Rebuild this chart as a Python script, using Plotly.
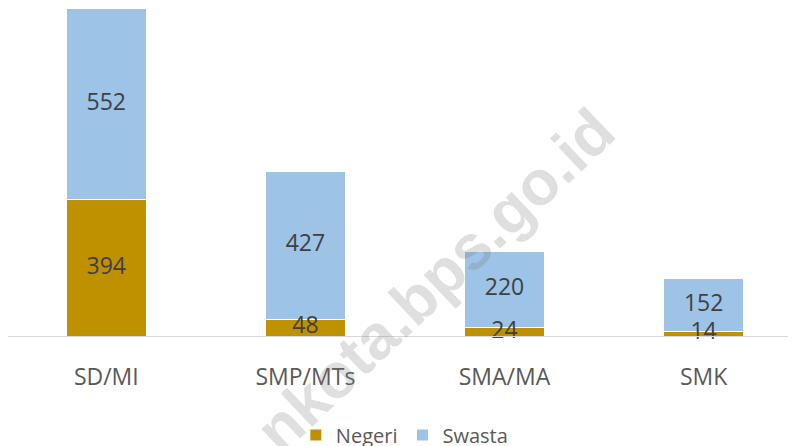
import plotly.graph_objects as go

categories = ["SD/MI", "SMP/MTs", "SMA/MA", "SMK"]
negeri = [394, 48, 24, 14]
swasta = [552, 427, 220, 152]
watermark = "nkota.bps.go.id"

NEG_COLOR = "#BF9000"
SWA_COLOR = "#9DC3E6"
FONT = "Open Sans"

fig = go.Figure()
fig.add_trace(go.Bar(x=categories, y=negeri, name="Negeri",
                     marker=dict(color=NEG_COLOR, line=dict(color="white", width=1))))
fig.add_trace(go.Bar(x=categories, y=swasta, name="Swasta",
                     marker=dict(color=SWA_COLOR, line=dict(color="white", width=1))))

# data labels centred on each segment
neg_mid = [n / 2 for n in negeri]
swa_mid = [n + s / 2 for n, s in zip(negeri, swasta)]
for ys, vals in ((neg_mid, negeri), (swa_mid, swasta)):
    fig.add_trace(go.Scatter(x=categories, y=ys, mode="text", text=[str(v) for v in vals],
                             textposition="middle center", showlegend=False, hoverinfo="skip",
                             textfont=dict(family=FONT, size=23, color="#404040"),
                             cliponaxis=False))

fig.add_annotation(text=watermark, xref="paper", yref="paper", x=0.5419, y=0.1707,
                   xanchor="center", yanchor="middle", textangle=-43.5, showarrow=False,
                   font=dict(family="Liberation Sans", size=63, color="rgba(120,120,120,0.24)",
                             weight="bold"))

fig.update_layout(
    width=788, height=438,
    barmode="stack", bargap=0.6,
    paper_bgcolor="white", plot_bgcolor="white",
    margin=dict(l=0, r=0, t=0, b=110, autoexpand=False),
    font=dict(family=FONT, color="#595959"),
    legend=dict(orientation="h", x=0.503, xanchor="center", y=-0.3018, yanchor="middle",
                font=dict(family=FONT, size=20, color="#595959"), itemwidth=30,
                traceorder="normal"),
    xaxis=dict(type="category", range=[-0.4937, 3.464], showline=True, linecolor="#D9D9D9",
               linewidth=1, ticks="", showgrid=False, zeroline=False, automargin=False,
               tickfont=dict(family=FONT, size=23, color="#595959"), ticklabelstandoff=20),
    yaxis=dict(range=[0, 947], visible=False, showgrid=False, zeroline=False, automargin=False),
)

fig.write_html("out.html")
